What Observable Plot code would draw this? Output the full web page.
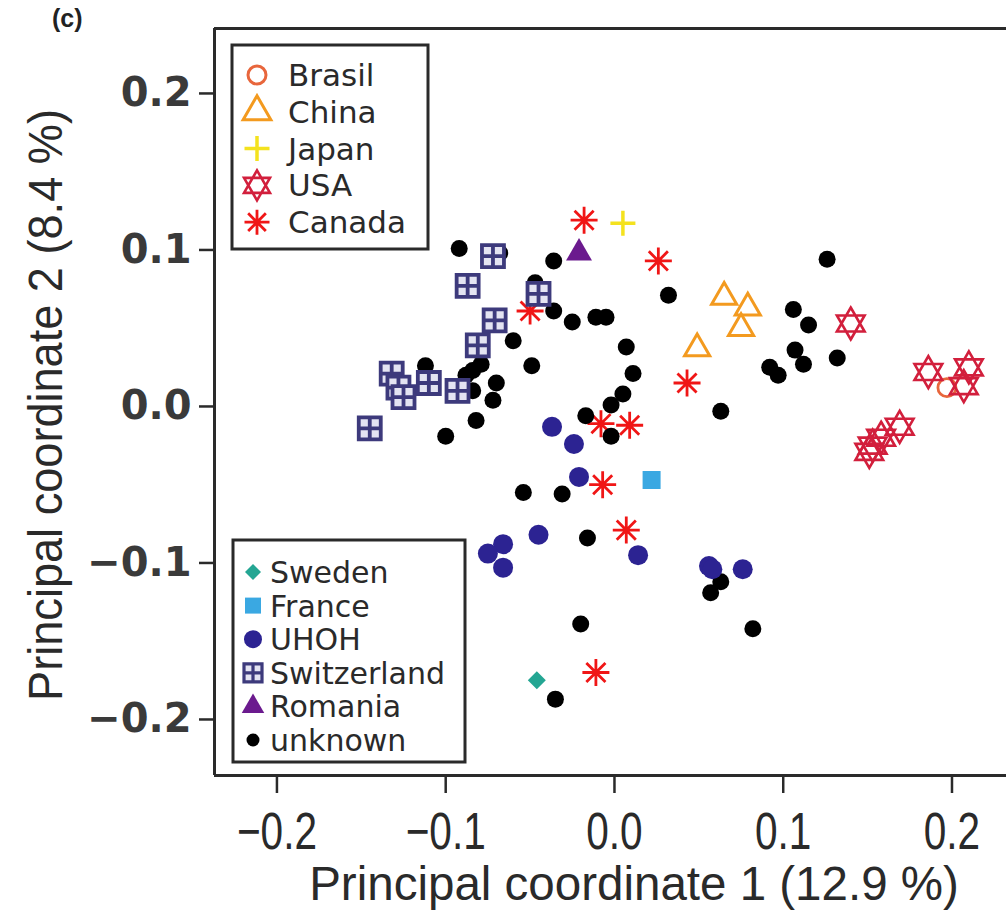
<!DOCTYPE html>
<html>
<head>
<meta charset="utf-8">
<script src="https://cdn.jsdelivr.net/npm/d3@7"></script>
<script src="https://cdn.jsdelivr.net/npm/@observablehq/plot@0.6"></script>
<style>
  html, body { margin: 0; padding: 0; background: white; }
  #chart { position: relative; width: 1006px; height: 918px; overflow: hidden; }
</style>
</head>
<body>
<div id="chart"></div>
<script>
// ---------- data (PC1, PC2) ----------
const brasil = [[0.197, 0.012]];
const china = [[0.065, 0.070], [0.079, 0.063], [0.075, 0.050], [0.049, 0.037]];
const japan = [[0.005, 0.117]];
const usa = [[0.140, 0.053], [0.186, 0.022], [0.210, 0.025], [0.207, 0.013],
             [0.169, -0.013], [0.158, -0.020], [0.153, -0.025], [0.151, -0.029]];
const canada = [[-0.018, 0.119], [0.026, 0.093], [-0.050, 0.061], [0.043, 0.015],
                [-0.008, -0.011], [0.009, -0.012], [-0.007, -0.050], [0.007, -0.079], [-0.011, -0.170]];
const sweden = [[-0.046, -0.175]];
const france = [[0.022, -0.047]];
const uhoh = [[-0.037, -0.013], [-0.024, -0.024], [-0.021, -0.045], [-0.045, -0.082],
              [-0.066, -0.088], [-0.075, -0.094], [-0.066, -0.103], [0.014, -0.095],
              [0.056, -0.102], [0.058, -0.104], [0.076, -0.104]];
const switzerland = [[-0.072, 0.096], [-0.087, 0.077], [-0.045, 0.072], [-0.071, 0.055],
                     [-0.081, 0.039], [-0.132, 0.021], [-0.128, 0.012], [-0.125, 0.006],
                     [-0.110, 0.015], [-0.093, 0.010], [-0.145, -0.014]];
const romania = [[-0.021, 0.098]];
const unknown = [[-0.092, 0.101], [-0.068, 0.098], [-0.036, 0.093], [-0.047, 0.079],
                 [-0.036, 0.061], [0.032, 0.071], [-0.025, 0.054], [-0.011, 0.057],
                 [-0.005, 0.057], [-0.060, 0.042], [0.007, 0.038], [-0.112, 0.026],
                 [-0.079, 0.027], [-0.084, 0.023], [-0.088, 0.020], [-0.049, 0.026],
                 [0.011, 0.021], [-0.070, 0.015], [-0.084, 0.010], [-0.072, 0.004],
                 [0.005, 0.008], [-0.002, 0.001], [-0.017, -0.006], [-0.002, -0.019],
                 [-0.082, -0.009], [-0.100, -0.019], [0.126, 0.094], [0.106, 0.062],
                 [0.115, 0.052], [0.107, 0.036], [0.112, 0.027], [0.132, 0.031],
                 [0.092, 0.025], [0.097, 0.020], [0.063, -0.003], [-0.054, -0.055],
                 [-0.031, -0.056], [-0.016, -0.084], [0.063, -0.112], [0.057, -0.119],
                 [-0.020, -0.139], [0.082, -0.142], [-0.035, -0.187]];

const xTicks = [-0.2, -0.1, 0.0, 0.1, 0.2];
const yTicks = [-0.2, -0.1, 0.0, 0.1, 0.2];
const xDomain = [-0.2370, 0.2323];
const yDomain = [-0.2358, 0.2415];
const xLabel = "Principal coordinate 1 (12.9 %)";
const yLabel = "Principal coordinate 2 (8.4 %)";
const panelLabel = "(c)";
const legendTop = ["Brasil", "China", "Japan", "USA", "Canada"];
const legendBottom = ["Sweden", "France", "UHOH", "Switzerland", "Romania", "unknown"];

// ---------- custom symbols ----------
const R = s => Math.sqrt(s / Math.PI);
const sym = {
  circle: {draw(c, s) { const r = R(s); c.moveTo(r, 0); c.arc(0, 0, r, 0, 2 * Math.PI); c.closePath(); }},
  triangle: {draw(c, s) { const r = R(s); c.moveTo(0, -r); c.lineTo(0.866 * r, 0.5 * r); c.lineTo(-0.866 * r, 0.5 * r); c.closePath(); }},
  plus: {draw(c, s) { const r = R(s); c.moveTo(-r, 0); c.lineTo(r, 0); c.moveTo(0, -r); c.lineTo(0, r); }},
  hexagram: {draw(c, s) { const r = R(s);
    c.moveTo(0, -r); c.lineTo(0.866 * r, 0.5 * r); c.lineTo(-0.866 * r, 0.5 * r); c.closePath();
    c.moveTo(0, r); c.lineTo(0.866 * r, -0.5 * r); c.lineTo(-0.866 * r, -0.5 * r); c.closePath(); }},
  asterisk: {draw(c, s) { const r = R(s);
    for (let k = 0; k < 4; k++) { const a = k * Math.PI / 4; c.moveTo(-r * Math.cos(a), -r * Math.sin(a)); c.lineTo(r * Math.cos(a), r * Math.sin(a)); } }},
  diamond: {draw(c, s) { const r = R(s); c.moveTo(0, -r); c.lineTo(r, 0); c.lineTo(0, r); c.lineTo(-r, 0); c.closePath(); }},
  square: {draw(c, s) { const r = R(s); c.rect(-r, -r, 2 * r, 2 * r); }},
  boxplus: {draw(c, s) { const r = R(s); c.rect(-r, -r, 2 * r, 2 * r); c.moveTo(-r, 0); c.lineTo(r, 0); c.moveTo(0, -r); c.lineTo(0, r); }}
};

const col = {
  brasil: "#e8663c", china: "#f39a1f", japan: "#f4e21e", usa: "#d21f3c", canada: "#f01616",
  sweden: "#24a693", france: "#3aa8e2", uhoh: "#2c2392", switzerland: "#3d3a7c",
  swissHole: "#e4e4f2", romania: "#6b1a8e", unknown: "#000000"
};

const XY = {x: d => d[0], y: d => d[1]};
const fmt = d3.format(".1f");

const chart = Plot.plot({
  width: 1006, height: 918,
  marginLeft: 214, marginRight: 0, marginTop: 28, marginBottom: 143,
  x: {domain: xDomain},
  y: {domain: yDomain},
  style: {background: "white", color: "#2a2a2a", fontFamily: "Liberation Sans, Arial, sans-serif"},
  marks: [
    Plot.axisX({ticks: xTicks, tickFormat: fmt, tickSize: 18, tickPadding: 19, fontSize: 52, strokeWidth: 2.5, label: null}),
    Plot.axisY({ticks: yTicks, tickFormat: fmt, tickSize: 15, tickPadding: 8, fontSize: 40, strokeWidth: 2.5, label: null}),
    Plot.dot(brasil, {...XY, symbol: sym.circle, r: 9, stroke: col.brasil, strokeWidth: 2.8, fill: "none"}),
    Plot.dot(china, {...XY, symbol: sym.triangle, r: 14.5, stroke: col.china, strokeWidth: 3, fill: "none"}),
    Plot.dot(japan, {...XY, symbol: sym.plus, r: 12.5, stroke: col.japan, strokeWidth: 3.5, fill: "none"}),
    Plot.dot(canada, {...XY, symbol: sym.asterisk, r: 13.5, stroke: col.canada, strokeWidth: 2.8, fill: "none"}),
    Plot.dot(unknown, {...XY, r: 8.5, fill: col.unknown}),
    Plot.dot(usa, {...XY, symbol: sym.hexagram, r: 16, stroke: col.usa, strokeWidth: 2.6, fill: "none"}),
    Plot.dot(sweden, {...XY, symbol: sym.diamond, r: 9, fill: col.sweden}),
    Plot.dot(france, {...XY, symbol: sym.square, r: 9, fill: col.france}),
    Plot.dot(uhoh, {...XY, r: 10, fill: col.uhoh}),
    Plot.dot(switzerland, {...XY, symbol: sym.boxplus, r: 11, fill: col.swissHole, stroke: col.switzerland, strokeWidth: 3.8}),
    Plot.dot(romania, {...XY, symbol: sym.triangle, r: 15, fill: col.romania}),
    Plot.ruleX([xDomain[0]], {stroke: "#2a2a2a", strokeWidth: 3}),
    Plot.ruleY(yDomain, {stroke: "#2a2a2a", strokeWidth: 3})
  ]
});

document.getElementById("chart").appendChild(chart);

// ---------- text styling helpers ----------
function squeeze(el, sx) {
  const t = el.getAttribute("transform");
  if (t && t.includes("translate")) {
    el.setAttribute("transform", t + ` scale(${sx},1)`);
  } else {
    const x = +el.getAttribute("x") || 0, y = +el.getAttribute("y") || 0;
    el.setAttribute("x", 0); el.setAttribute("y", 0);
    el.setAttribute("transform", `translate(${x},${y}) scale(${sx},1)`);
  }
}
chart.querySelectorAll('g[aria-label="x-axis tick label"]').forEach(g => {
  g.setAttribute("font-family", "Liberation Sans, Arial, sans-serif");
  g.querySelectorAll("text").forEach(t => squeeze(t, 0.78));
});
chart.querySelectorAll('g[aria-label="y-axis tick label"]').forEach(g => {
  g.setAttribute("font-family", "DejaVu Sans, sans-serif");
  g.setAttribute("font-weight", "bold");
  g.setAttribute("fill", "#3a3a3a");
});

const svg = d3.select(chart);
const txt = () => svg.append("text")
  .style("font-family", "Liberation Sans, Arial, sans-serif").style("fill", "#2a2a2a");
// titles
txt().text(xLabel)
  .attr("transform", "translate(634,900) scale(0.99,1)")
  .style("text-anchor", "middle").style("font-size", "48px");
txt().text(yLabel)
  .attr("transform", "translate(62,405) rotate(-90) scale(0.94,1)")
  .style("text-anchor", "middle").style("font-size", "48px");
txt().text(panelLabel)
  .attr("x", 52).attr("y", 27).style("text-anchor", "start")
  .style("font-size", "25px").style("font-weight", "bold").style("fill", "#222");

// ---------- legends ----------
const symPath = (s, r) => d3.symbol().type(s).size(Math.PI * r * r)();
const styles = {
  Brasil: {s: sym.circle, r: 9, stroke: col.brasil, sw: 3, fill: "none"},
  China: {s: sym.triangle, r: 16, stroke: col.china, sw: 3, fill: "none"},
  Japan: {s: sym.plus, r: 12.5, stroke: col.japan, sw: 3.5, fill: "none"},
  USA: {s: sym.hexagram, r: 15, stroke: col.usa, sw: 2.6, fill: "none"},
  Canada: {s: sym.asterisk, r: 12.5, stroke: col.canada, sw: 2.8, fill: "none"},
  Sweden: {s: sym.diamond, r: 8, stroke: "none", sw: 0, fill: col.sweden},
  France: {s: sym.square, r: 8, stroke: "none", sw: 0, fill: col.france},
  UHOH: {s: sym.circle, r: 9, stroke: "none", sw: 0, fill: col.uhoh},
  Switzerland: {s: sym.boxplus, r: 9, stroke: col.switzerland, sw: 3.2, fill: col.swissHole},
  Romania: {s: sym.triangle, r: 13, stroke: "none", sw: 0, fill: col.romania},
  unknown: {s: sym.circle, r: 6.5, stroke: "none", sw: 0, fill: col.unknown}
};
function legend(names, box, symX, textX, y0, dy, fontSize) {
  const g = svg.append("g");
  g.append("rect").attr("x", box[0]).attr("y", box[1]).attr("width", box[2] - box[0]).attr("height", box[3] - box[1])
    .attr("fill", "white").attr("stroke", "#2a2a2a").attr("stroke-width", 3);
  names.forEach((n, i) => {
    const st = styles[n], y = y0 + i * dy;
    g.append("path").attr("d", symPath(st.s, st.r)).attr("transform", `translate(${symX},${y})`)
      .attr("fill", st.fill).attr("stroke", st.stroke).attr("stroke-width", st.sw);
    g.append("text").text(n).attr("x", textX).attr("y", y + 11)
      .style("text-anchor", "start").style("font-size", fontSize + "px")
      .style("font-family", "DejaVu Sans, sans-serif").style("fill", "#2a2a2a");
  });
}
legend(legendTop, [232, 45, 428, 249], 257, 288, 75, 36.8, 31);
legend(legendBottom, [233, 540, 465, 762], 253, 270, 572, 33.6, 30);
</script>
</body>
</html>
